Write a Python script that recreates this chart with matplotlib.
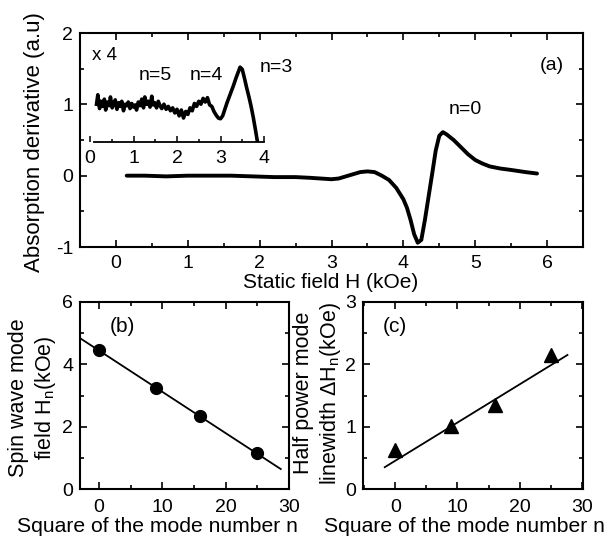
import matplotlib
matplotlib.use('Agg')
import matplotlib.pyplot as plt
from matplotlib.ticker import MultipleLocator

plt.rcParams['font.family'] = ['Liberation Sans', 'DejaVu Sans']
plt.rcParams['mathtext.fontset'] = 'custom'
plt.rcParams['mathtext.rm'] = 'Liberation Sans'
plt.rcParams['mathtext.it'] = 'Liberation Sans:italic'
plt.rcParams['axes.unicode_minus'] = False

# ---------------- data ----------------
# panel (a): main absorption-derivative trace
field_main = [0.15, 0.4, 0.7, 1.0, 1.3, 1.6, 1.9, 2.2, 2.5, 2.7, 2.85, 3.0, 3.1, 3.2,
              3.3, 3.4, 3.5, 3.6, 3.7, 3.8, 3.9, 4.0, 4.05, 4.1, 4.15, 4.2, 4.25, 4.3,
              4.35, 4.4, 4.45, 4.5, 4.55, 4.6, 4.7, 4.8, 4.9, 5.0, 5.1, 5.2, 5.35, 5.5,
              5.7, 5.86]
deriv_main = [0.0, 0.0, -0.01, 0.0, 0.0, 0.0, -0.01, -0.02, -0.02, -0.03, -0.04, -0.05,
              -0.04, -0.01, 0.02, 0.05, 0.06, 0.05, 0.0, -0.06, -0.17, -0.33, -0.45,
              -0.62, -0.82, -0.94, -0.9, -0.62, -0.3, 0.02, 0.35, 0.56, 0.61, 0.58, 0.5,
              0.4, 0.3, 0.22, 0.17, 0.13, 0.1, 0.08, 0.05, 0.03]

# inset (x4 magnified low-field part)
field_inset = [0.15, 0.18, 0.22, 0.25, 0.29, 0.33, 0.36, 0.40, 0.44, 0.47, 0.51, 0.55,
               0.58, 0.62, 0.66, 0.70, 0.73, 0.77, 0.81, 0.85, 0.88, 0.92, 0.96, 1.00,
               1.04, 1.07, 1.11, 1.15, 1.19, 1.23, 1.26, 1.30, 1.34, 1.38, 1.42, 1.45,
               1.49, 1.53, 1.57, 1.61, 1.65, 1.70, 1.75, 1.80, 1.85, 1.90, 1.95, 2.00,
               2.05, 2.10, 2.15, 2.20, 2.25, 2.30, 2.35, 2.40, 2.45, 2.50, 2.55, 2.60,
               2.65, 2.70, 2.75, 2.80, 2.85, 2.90, 2.95, 3.00, 3.05, 3.10, 3.15, 3.20,
               3.25, 3.30, 3.35, 3.40, 3.45, 3.50, 3.55, 3.60, 3.65, 3.70, 3.75, 3.80,
               3.85]
deriv_inset = [1.02, 1.15, 0.96, 1.06, 0.99, 1.09, 0.94, 1.05, 1.00, 1.12, 0.97, 1.03,
               1.08, 0.95, 1.04, 0.99, 1.06, 0.93, 1.02, 1.00, 1.05, 0.96, 1.03, 0.98,
               1.01, 0.94, 1.05, 1.00, 1.09, 0.97, 1.12, 1.02, 1.06, 0.98, 1.13, 1.01,
               1.04, 0.97, 1.06, 1.00, 0.96, 1.02, 0.95, 0.99, 0.93, 0.97, 0.90, 0.95,
               0.86, 0.94, 0.83, 0.92, 0.88, 0.97, 0.93, 1.03, 0.99, 1.06, 1.02, 1.10,
               1.05, 1.11, 1.01, 0.99, 0.92, 0.87, 0.83, 0.82, 0.86, 0.95, 1.04, 1.12,
               1.20, 1.28, 1.37, 1.45, 1.53, 1.50, 1.38, 1.25, 1.13, 1.00, 0.85, 0.68,
               0.50]

# panel (b): spin wave mode field vs n^2
n_sq_b = [0, 9, 16, 25]
mode_field = [4.47, 3.25, 2.34, 1.15]
fit_b_x = [-3, 28.7]
fit_b_y = [4.84, 0.64]

# panel (c): half power linewidth vs n^2
n_sq_c = [0, 9, 16, 25]
linewidth = [0.63, 1.01, 1.35, 2.15]
fit_c_x = [-1.7, 27.7]
fit_c_y = [0.35, 2.15]

# ---------------- figure ----------------
W, H = 609, 545
fig = plt.figure(figsize=(W / 100, H / 100), dpi=100)


def rect(l, t, r, b):
    return [l / W, 1 - b / H, (r - l) / W, (b - t) / H]


def fx(px):
    return px / W


def fy(py):
    return 1 - py / H


def style(ax, xmaj, xmin, ymaj, ymin, xpad=7, ypad=5):
    for s in ax.spines.values():
        s.set_linewidth(1.5)
    ax.xaxis.set_major_locator(MultipleLocator(xmaj))
    ax.xaxis.set_minor_locator(MultipleLocator(xmin))
    ax.yaxis.set_major_locator(MultipleLocator(ymaj))
    ax.yaxis.set_minor_locator(MultipleLocator(ymin))
    ax.tick_params(which='both', direction='in', top=True, right=True, width=1.2,
                   labelsize=14)
    ax.tick_params(which='major', length=5)
    ax.tick_params(which='minor', length=3)
    ax.tick_params(axis='x', pad=xpad)
    ax.tick_params(axis='y', pad=ypad)


# panel (a)
ax_a = fig.add_axes(rect(80, 33, 583, 247))
ax_a.plot(field_main, deriv_main, color='black', lw=2.8, solid_capstyle='round')
ax_a.set_xlim(-0.5, 6.5)
ax_a.set_ylim(-1, 2)
style(ax_a, 1, 0.5, 1, 0.5, xpad=6, ypad=5)

fig.text(fx(35), fy(142), 'Absorption derivative (a.u)', rotation=90,
         ha='center', va='center', fontsize=16)
fig.text(fx(331), fy(283), 'Static field H (kOe)', ha='center', va='center', fontsize=15)
fig.text(fx(552), fy(65), '(a)', ha='center', va='center', fontsize=14)
fig.text(fx(465), fy(110), 'n=0', ha='center', va='center', fontsize=14)

# inset
ax_in = fig.add_axes(rect(90, 33, 264, 142))
ax_in.patch.set_visible(False)
ax_in.plot(field_inset, deriv_inset, color='black', lw=2.6)
ax_in.set_xlim(0, 4)
ax_in.set_ylim(0.5, 2.0)
for side in ('left', 'top', 'right'):
    ax_in.spines[side].set_visible(False)
ax_in.spines['bottom'].set_linewidth(1.3)
ax_in.spines['bottom'].set_bounds(0.1, 4.0)
ax_in.yaxis.set_visible(False)
ax_in.xaxis.set_major_locator(MultipleLocator(1))
ax_in.xaxis.set_minor_locator(MultipleLocator(0.5))
ax_in.tick_params(axis='x', which='both', direction='in', width=1.1, labelsize=14, pad=6)
ax_in.tick_params(axis='x', which='major', length=4)
ax_in.tick_params(axis='x', which='minor', length=2)
fig.text(fx(104), fy(55), 'x 4', ha='center', va='center', fontsize=13.5)
fig.text(fx(155), fy(76), 'n=5', ha='center', va='center', fontsize=14)
fig.text(fx(206), fy(76), 'n=4', ha='center', va='center', fontsize=14)
fig.text(fx(276), fy(67), 'n=3', ha='center', va='center', fontsize=14)

# panel (b)
ax_b = fig.add_axes(rect(80, 302, 289, 489))
ax_b.plot(fit_b_x, fit_b_y, color='black', lw=1.3)
ax_b.plot(n_sq_b, mode_field, 'o', color='black', ms=8.5)
ax_b.set_xlim(-3, 30)
ax_b.set_ylim(0, 6)
style(ax_b, 10, 5, 2, 1, xpad=7, ypad=5)
fig.text(fx(122), fy(326), '(b)', ha='center', va='center', fontsize=15)
fig.text(fx(33), fy(398), 'Spin wave mode\nfield H$_\\mathregular{n}$(kOe)', rotation=90,
         ha='center', va='center', fontsize=15.5, linespacing=1.2)
fig.text(fx(157), fy(527), 'Square of the mode number n', ha='center', va='center',
         fontsize=15.2)

# panel (c)
ax_c = fig.add_axes(rect(363, 302, 583, 489))
ax_c.plot(fit_c_x, fit_c_y, color='black', lw=1.3)
ax_c.plot(n_sq_c, linewidth, '^', color='black', ms=9.5)
ax_c.set_xlim(-5.2, 30.2)
ax_c.set_ylim(0, 3)
style(ax_c, 10, 5, 1, 0.5, xpad=7, ypad=5)
fig.text(fx(395), fy(326), '(c)', ha='center', va='center', fontsize=15)
fig.text(fx(318), fy(393), 'Half power mode\nlinewidth \u0394H$_\\mathregular{n}$(kOe)',
         rotation=90, ha='center', va='center', fontsize=15.5, linespacing=1.2)
fig.text(fx(464), fy(527), 'Square of the mode number n', ha='center', va='center',
         fontsize=15.2)

fig.savefig('out.png', dpi=100)
